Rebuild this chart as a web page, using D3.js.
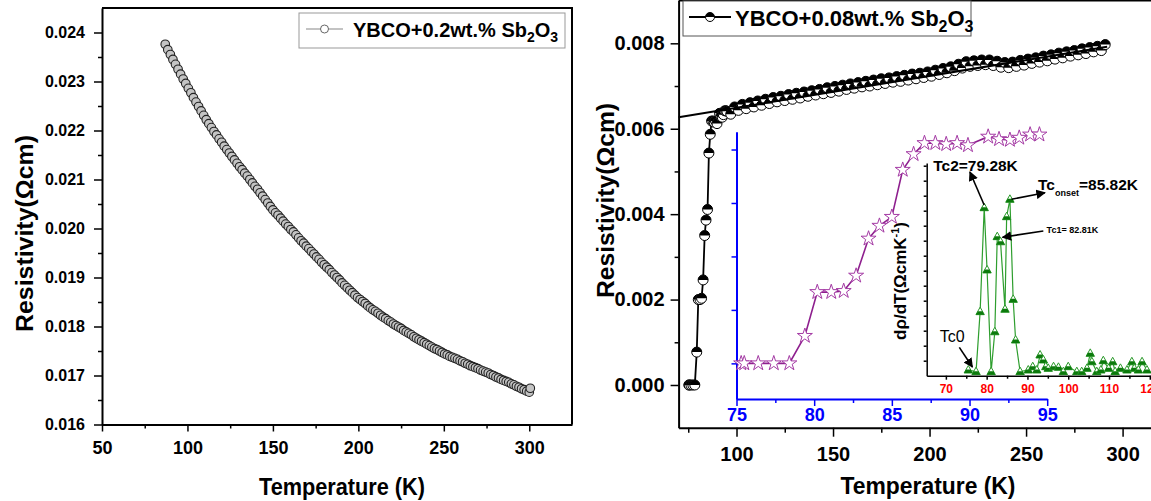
<!DOCTYPE html>
<html>
<head>
<meta charset="utf-8">
<script src="https://cdn.jsdelivr.net/npm/d3@7"></script>
<style>
  body { margin: 0; background: #fff; }
  svg { display: block; font-family: 'Liberation Sans', Arial, sans-serif; }
</style>
</head>
<body>
<svg id="chart" width="1151" height="501"></svg>
<script>
// left panel: YBCO + 0.2 wt.% Sb2O3
var leftT = [87, 88.5, 90, 91.5, 93, 94.5, 96, 97.5, 99, 100.5, 102, 103.5, 105, 106.5, 108, 109.5, 111, 112.5,
  114, 115.5, 117, 118.5, 120, 121.5, 123, 124.5, 126, 127.5, 129, 130.5, 132, 133.5, 135, 136.5, 138, 139.5,
  141, 142.5, 144, 145.5, 147, 148.5, 150, 151.5, 153, 154.5, 156, 157.5, 159, 160.5, 162, 163.5, 165, 166.5,
  168, 169.5, 171, 172.5, 174, 175.5, 177, 178.5, 180, 181.5, 183, 184.5, 186, 187.5, 189, 190.5, 192, 193.5,
  195, 196.5, 198, 199.5, 201, 202.5, 204, 205.5, 207, 208.5, 210, 211.5, 213, 214.5, 216, 217.5, 219, 220.5,
  222, 223.5, 225, 226.5, 228, 229.5, 231, 232.5, 234, 235.5, 237, 238.5, 240, 241.5, 243, 244.5, 246, 247.5,
  249, 250.5, 252, 253.5, 255, 256.5, 258, 259.5, 261, 262.5, 264, 265.5, 267, 268.5, 270, 271.5, 273, 274.5,
  276, 277.5, 279, 280.5, 282, 283.5, 285, 286.5, 288, 289.5, 291, 292.5, 294, 295.5, 297, 298.5, 300, 300.6]
var leftRho = [0.02376, 0.02365, 0.02355, 0.02345, 0.02335, 0.02325, 0.02315, 0.02305, 0.02296, 0.02286,
  0.02277, 0.02267, 0.02258, 0.02249, 0.02240, 0.02231, 0.02222, 0.02214, 0.02206, 0.02198,
  0.02191, 0.02183, 0.02176, 0.02168, 0.02161, 0.02154, 0.02147, 0.02140, 0.02133, 0.02126,
  0.02120, 0.02113, 0.02107, 0.02100, 0.02093, 0.02086, 0.02080, 0.02073, 0.02066, 0.02059,
  0.02052, 0.02045, 0.02038, 0.02032, 0.02027, 0.02021, 0.02015, 0.02009, 0.02004, 0.01998,
  0.01993, 0.01987, 0.01981, 0.01975, 0.01970, 0.01964, 0.01959, 0.01953, 0.01948, 0.01942,
  0.01937, 0.01931, 0.01926, 0.01921, 0.01916, 0.01910, 0.01905, 0.01900, 0.01895, 0.01889,
  0.01884, 0.01879, 0.01874, 0.01869, 0.01864, 0.01859, 0.01855, 0.01851, 0.01847, 0.01842,
  0.01838, 0.01834, 0.01831, 0.01827, 0.01823, 0.01819, 0.01816, 0.01812, 0.01809, 0.01805,
  0.01802, 0.01799, 0.01796, 0.01792, 0.01789, 0.01786, 0.01783, 0.01779, 0.01776, 0.01773,
  0.01770, 0.01767, 0.01764, 0.01761, 0.01758, 0.01755, 0.01753, 0.01750, 0.01747, 0.01744,
  0.01742, 0.01739, 0.01737, 0.01735, 0.01733, 0.01730, 0.01728, 0.01725, 0.01723, 0.01720,
  0.01718, 0.01716, 0.01714, 0.01711, 0.01709, 0.01707, 0.01705, 0.01702, 0.01700, 0.01697,
  0.01695, 0.01692, 0.01690, 0.01688, 0.01686, 0.01683, 0.01681, 0.01678, 0.01676, 0.01673,
  0.01671, 0.01668, 0.01666, 0.01674]
var leftXTicks = [50, 100, 150, 200, 250, 300]
var leftYTicks = [0.016, 0.017, 0.018, 0.019, 0.020, 0.021, 0.022, 0.023, 0.024]

// right panel: YBCO + 0.08 wt.% Sb2O3, transition region (also shown in the inset)
var insetT = [75.3, 75.5, 76.4, 77.4, 78.4, 79.4, 80.2, 81.1, 81.9, 82.7, 83.5, 84.2, 85.0, 85.7, 86.4,
  87.1, 87.8, 88.5, 89.2, 89.9, 91.2, 91.9, 92.6, 93.2, 93.9, 94.5]
var insetRho = [0, 0, 0, 0, 0, 0.00077, 0.00200, 0.00200, 0.00203, 0.00246, 0.00350, 0.00386, 0.00411,
  0.00543, 0.00587, 0.00618, 0.00618, 0.00615, 0.00618, 0.00612, 0.00636, 0.00629, 0.00627, 0.00633,
  0.00642, 0.00642]
// normal state part
var bandT = [95, 97, 99, 101, 103, 105, 107, 109, 111, 113, 115, 117, 119, 121, 123, 125, 127, 129, 131, 133,
  135, 137, 139, 141, 143, 145, 147, 149, 151, 153, 155, 157, 159, 161, 163, 165, 167, 169, 171, 173,
  175, 177, 179, 181, 183, 185, 187, 189, 191, 193, 195, 197, 199, 201, 203, 205, 207, 209, 211, 213,
  215, 217, 219, 221, 223, 225, 227, 229, 231, 233, 235, 237, 239, 241, 243, 245, 247, 249, 251, 253,
  255, 257, 259, 261, 263, 265, 267, 269, 271, 273, 275, 277, 279, 281, 283, 285, 287, 289, 291]
var bandRho = [0.00641, 0.00634, 0.00651, 0.00643, 0.00657, 0.00647, 0.00661, 0.00651, 0.00665, 0.00655,
  0.00669, 0.00659, 0.00673, 0.00663, 0.00676, 0.00666, 0.00680, 0.00669, 0.00683, 0.00672,
  0.00686, 0.00676, 0.00689, 0.00679, 0.00692, 0.00682, 0.00696, 0.00685, 0.00699, 0.00688,
  0.00702, 0.00692, 0.00705, 0.00695, 0.00708, 0.00698, 0.00711, 0.00700, 0.00714, 0.00703,
  0.00717, 0.00706, 0.00719, 0.00709, 0.00722, 0.00711, 0.00725, 0.00714, 0.00728, 0.00717,
  0.00730, 0.00720, 0.00733, 0.00723, 0.00737, 0.00727, 0.00741, 0.00731, 0.00745, 0.00736,
  0.00751, 0.00742, 0.00757, 0.00746, 0.00759, 0.00748, 0.00761, 0.00750, 0.00761, 0.00748,
  0.00758, 0.00744, 0.00755, 0.00743, 0.00756, 0.00746, 0.00760, 0.00749, 0.00763, 0.00753,
  0.00766, 0.00756, 0.00770, 0.00759, 0.00773, 0.00763, 0.00777, 0.00766, 0.00780, 0.00770,
  0.00783, 0.00773, 0.00787, 0.00776, 0.00790, 0.00780, 0.00793, 0.00783, 0.00797]
var fitT = [70, 292]
var fitRho = [0.00627, 0.00792]
var rightXTicks = [100, 150, 200, 250, 300]
var rightYTicks = [0, 0.002, 0.004, 0.006, 0.008]
var insetXTicks = [75, 80, 85, 90, 95]
var insetYTicks = [0, 0.0015, 0.003, 0.0045, 0.006]

// d(rho)/dT inset
var derivT = [75.5, 77.4, 78.4, 79.4, 80.1, 81.1, 82.0, 82.6, 83.4, 84.5, 84.9, 85.7, 86.5, 87.1, 88.2,
  90.2, 91.3, 92.3, 93.1, 93.9, 94.5, 95.1, 96.4, 97.6, 98.8, 100, 102.1, 103.3, 104.6, 105.4, 105.8,
  107, 108, 108.6, 109.9, 110.9, 111.5, 112.8, 114.4, 115.6, 116.2, 117.2, 118.1, 119.3]
var derivVal = [0.38, 0.27, 4.27, 11.2, 7.05, 0.27, 2.93, 9.27, 8.93, 4.43, 10.6, 11.76, 5.09, 2.38, 0.27,
  0.38, 0.6, 0.38, 1.38, 1.05, 0.6, 0.49, 0.6, 0.56, 0.27, 0.6, 0.27, 0.27, 0.49, 1.49, 0.93,
  0.27, 0.38, 1.0, 0.49, 0.93, 0.27, 0.49, 0.38, 0.93, 0.49, 0.38, 0.93, 0.38]
var derivXTicks = [70, 80, 90, 100, 110, 120]

var font = "'Liberation Sans', Arial, sans-serif"
var svg = d3.select('#chart')

svg.append('defs').append('marker')
  .attr('id', 'arrow')
  .attr('viewBox', '0 0 10 10')
  .attr('refX', 9).attr('refY', 5)
  .attr('markerWidth', 6).attr('markerHeight', 6)
  .attr('orient', 'auto')
  .append('path').attr('d', 'M0,0L10,5L0,10z').attr('fill', '#000')

function zip (xs, ys) {
  return xs.map((x, i) => ({ x: x, y: ys[i] }))
}

function drawAxis (g, axis, opts) {
  g.call(axis)
  g.select('.domain').attr('stroke', opts.color || '#000').attr('stroke-width', opts.width || 2)
  g.selectAll('.tick line').attr('stroke', opts.color || '#000').attr('stroke-width', 1.5)
  g.selectAll('.tick text')
    .attr('fill', opts.textColor || opts.color || '#000')
    .attr('font-size', opts.size)
    .attr('font-weight', 'bold')
    .attr('font-family', font)
  if (opts.noDomain) g.select('.domain').remove()
  return g
}

function title (text, x, y, size, len, rotate) {
  var t = svg.append('text')
    .attr('text-anchor', 'middle')
    .attr('font-size', size)
    .attr('font-weight', 'bold')
    .attr('textLength', len)
    .attr('lengthAdjust', 'spacingAndGlyphs')
    .text(text)
  if (rotate) t.attr('transform', 'translate(' + x + ',' + y + ') rotate(-90)')
  else t.attr('x', x).attr('y', y)
  return t
}

// ---------------- left panel ----------------
var xL = d3.scaleLinear().domain([50, 325]).range([102, 572])
var yL = d3.scaleLinear().domain([0.016, 0.0245]).range([424.5, 8])

drawAxis(svg.append('g').attr('transform', 'translate(0,' + yL.range()[0] + ')'),
  d3.axisBottom(xL).tickValues(leftXTicks).tickSize(7).tickSizeOuter(0).tickPadding(10), { size: 18 })
drawAxis(svg.append('g').attr('transform', 'translate(0,' + yL.range()[0] + ')'),
  d3.axisBottom(xL).tickValues([75, 125, 175, 225, 275]).tickSize(4).tickFormat(''), { noDomain: true })
drawAxis(svg.append('g').attr('transform', 'translate(' + xL.range()[0] + ',0)'),
  d3.axisLeft(yL).tickValues(leftYTicks).tickSize(8).tickSizeOuter(0).tickPadding(9).tickFormat(d3.format('.3f')), { size: 16 })
drawAxis(svg.append('g').attr('transform', 'translate(' + xL.range()[0] + ',0)'),
  d3.axisLeft(yL).tickValues([0.0165, 0.0175, 0.0185, 0.0195, 0.0205, 0.0215, 0.0225, 0.0235]).tickSize(4).tickFormat(''), { noDomain: true })
svg.append('path')
  .attr('d', 'M' + xL.range()[0] + ',' + yL.range()[1] + 'H' + xL.range()[1] + 'V' + yL.range()[0])
  .attr('fill', 'none').attr('stroke', '#000').attr('stroke-width', 2)

var leftData = zip(leftT, leftRho)
svg.append('path')
  .datum(leftData)
  .attr('fill', 'none').attr('stroke', '#888').attr('stroke-width', 1)
  .attr('d', d3.line().x((d) => xL(d.x)).y((d) => yL(d.y)))
svg.append('g').selectAll('circle')
  .data(leftData).enter().append('circle')
  .attr('cx', (d) => xL(d.x)).attr('cy', (d) => yL(d.y)).attr('r', 4.3)
  .attr('fill', '#c4c4c4').attr('stroke', '#222').attr('stroke-width', 1.1)

// legend
var lg = svg.append('g')
lg.append('rect').attr('x', 299).attr('y', 13).attr('width', 266).attr('height', 35)
  .attr('fill', '#fff').attr('stroke', '#999').attr('stroke-width', 1)
lg.append('line').attr('x1', 306).attr('x2', 343).attr('y1', 29).attr('y2', 29).attr('stroke', '#888').attr('stroke-width', 1.2)
lg.append('circle').attr('cx', 324.5).attr('cy', 29).attr('r', 4).attr('fill', '#fff').attr('stroke', '#666')
var lt = lg.append('text').attr('x', 353).attr('y', 37).attr('font-size', 20).attr('font-weight', 'bold')
lt.append('tspan').text('YBCO+0.2wt.% Sb')
lt.append('tspan').attr('font-size', 14).attr('dy', 5).text('2')
lt.append('tspan').attr('dy', -5).text('O')
lt.append('tspan').attr('font-size', 14).attr('dy', 5).text('3')

title('Temperature (K)', 342, 495, 24, 166)
title('Resistivity(\u03A9cm)', 33, 233.5, 24, 197, true)

// ---------------- right panel ----------------
var xR = d3.scaleLinear().domain([70, 330]).range([678.6, 1180.5])
var yR = d3.scaleLinear().domain([-0.001, 0.009]).range([427.7, 0.6])

drawAxis(svg.append('g').attr('transform', 'translate(0,' + yR.range()[0] + ')'),
  d3.axisBottom(xR).tickValues(rightXTicks).tickSize(9).tickSizeOuter(0).tickPadding(10), { size: 20 })
drawAxis(svg.append('g').attr('transform', 'translate(0,' + yR.range()[0] + ')'),
  d3.axisBottom(xR).tickValues([75, 125, 175, 225, 275]).tickSize(5).tickFormat(''), { noDomain: true })
drawAxis(svg.append('g').attr('transform', 'translate(' + xR.range()[0] + ',0)'),
  d3.axisLeft(yR).tickValues(rightYTicks).tickSize(8).tickSizeOuter(0).tickPadding(6).tickFormat(d3.format('.3f')), { size: 20 })
drawAxis(svg.append('g').attr('transform', 'translate(' + xR.range()[0] + ',0)'),
  d3.axisLeft(yR).tickValues([0.001, 0.003, 0.005, 0.007]).tickSize(4).tickFormat(''), { noDomain: true })
svg.append('line')
  .attr('x1', xR.range()[0]).attr('x2', xR.range()[1]).attr('y1', yR.range()[1]).attr('y2', yR.range()[1])
  .attr('stroke', '#000').attr('stroke-width', 2)

var rightData = zip(insetT, insetRho).concat(zip(bandT, bandRho))
svg.append('path')
  .datum(rightData)
  .attr('fill', 'none').attr('stroke', '#000').attr('stroke-width', 1.8)
  .attr('d', d3.line().x((d) => xR(d.x)).y((d) => yR(d.y)))

function halfCircles (g, data, x, y, r) {
  var m = g.selectAll('g').data(data).enter().append('g')
    .attr('transform', (d) => 'translate(' + x(d.x) + ',' + y(d.y) + ')')
  m.append('circle').attr('r', r).attr('fill', '#fff').attr('stroke', '#000').attr('stroke-width', 1)
  m.append('path').attr('d', 'M' + (-r) + ',0A' + r + ',' + r + ' 0 0 1 ' + r + ',0Z').attr('fill', '#000')
}
halfCircles(svg.append('g'), rightData, xR, yR, 5)

svg.append('line')
  .attr('x1', xR(fitT[0])).attr('y1', yR(fitRho[0]))
  .attr('x2', xR(fitT[1])).attr('y2', yR(fitRho[1]))
  .attr('stroke', '#000').attr('stroke-width', 2)

// legend
var rg = svg.append('g')
rg.append('rect').attr('x', 683).attr('y', 1).attr('width', 288).attr('height', 35)
  .attr('fill', '#fff').attr('stroke', '#555').attr('stroke-width', 1)
rg.append('line').attr('x1', 689).attr('x2', 731).attr('y1', 17).attr('y2', 17).attr('stroke', '#000').attr('stroke-width', 2)
halfCircles(rg.append('g'), [{ x: 0, y: 0 }], () => 710, () => 17, 4.5)
var rt = rg.append('text').attr('x', 735).attr('y', 26).attr('font-size', 22).attr('font-weight', 'bold')
rt.append('tspan').text('YBCO+0.08wt.% Sb')
rt.append('tspan').attr('font-size', 16).attr('dy', 6).text('2')
rt.append('tspan').attr('dy', -6).text('O')
rt.append('tspan').attr('font-size', 16).attr('dy', 6).text('3')

title('Temperature (K)', 928, 494, 24, 175)
title('Resistivity(\u03A9cm)', 614, 200.5, 24, 195, true)

// ---------------- inset: rho vs T near Tc ----------------
var xI = d3.scaleLinear().domain([75, 95]).range([736.5, 1047.2])
var yI = d3.scaleLinear().domain([-0.001, 0.0065]).range([399, 131.7])

drawAxis(svg.append('g').attr('transform', 'translate(0,' + yI.range()[0] + ')'),
  d3.axisBottom(xI).tickValues(insetXTicks).tickSize(7).tickSizeOuter(0).tickPadding(2), { size: 18, color: '#0000ff' })
drawAxis(svg.append('g').attr('transform', 'translate(0,' + yI.range()[0] + ')'),
  d3.axisBottom(xI).tickValues([77.5, 82.5, 87.5, 92.5]).tickSize(4).tickFormat(''), { noDomain: true, color: '#0000ff' })
drawAxis(svg.append('g').attr('transform', 'translate(' + xI.range()[0] + ',0)'),
  d3.axisLeft(yI).tickValues(insetYTicks).tickSize(5).tickSizeOuter(0).tickFormat(''), { color: '#0000ff' })

var insetData = zip(insetT, insetRho)
svg.append('path')
  .datum(insetData)
  .attr('fill', 'none').attr('stroke', '#8e1f8e').attr('stroke-width', 1.6)
  .attr('d', d3.line().x((d) => xI(d.x)).y((d) => yI(d.y)))
svg.append('g').selectAll('path')
  .data(insetData).enter().append('path')
  .attr('transform', (d) => 'translate(' + xI(d.x) + ',' + yI(d.y) + ')')
  .attr('d', d3.symbol(d3.symbolStar, 70))
  .attr('fill', '#fff').attr('stroke', '#a43aa4').attr('stroke-width', 1)

// ---------------- inset: d(rho)/dT ----------------
var xD = d3.scaleLinear().domain([65.3, 125]).range([926.7, 1170.2])
var yD = d3.scaleLinear().domain([0, 14.18]).range([375.7, 163])

drawAxis(svg.append('g').attr('transform', 'translate(0,' + yD.range()[0] + ')'),
  d3.axisBottom(xD).tickValues(derivXTicks).tickSize(4).tickSizeOuter(0).tickPadding(5), { size: 12, width: 1.5, textColor: '#ff0000' })
drawAxis(svg.append('g').attr('transform', 'translate(0,' + yD.range()[0] + ')'),
  d3.axisBottom(xD).tickValues([75, 85, 95, 105, 115]).tickSize(3).tickFormat(''), { noDomain: true })
drawAxis(svg.append('g').attr('transform', 'translate(' + xD.range()[0] + ',0)'),
  d3.axisLeft(yD).tickValues([1, 2, 3, 4, 5, 6, 7, 8, 9, 10, 11, 12, 13, 14]).tickSize(3).tickSizeOuter(0).tickFormat(''), { width: 1.5 })

var derivData = zip(derivT, derivVal)
svg.append('path')
  .datum(derivData)
  .attr('fill', 'none').attr('stroke', '#2e9e2e').attr('stroke-width', 1.2)
  .attr('d', d3.line().x((d) => xD(d.x)).y((d) => yD(d.y)))
var tri = svg.append('g').selectAll('g')
  .data(derivData).enter().append('g')
  .attr('transform', (d) => 'translate(' + xD(d.x) + ',' + yD(d.y) + ')')
tri.append('path').attr('d', 'M0,-4.5L4.2,3L-4.2,3Z')
  .attr('fill', '#fff').attr('stroke', '#2a9a2a').attr('stroke-width', 1)
tri.append('path').attr('d', 'M-2.3,-0.5L2.3,-0.5L4.2,3L-4.2,3Z').attr('fill', '#0c7a0c')

var dl = svg.append('text')
  .attr('transform', 'translate(906,281) rotate(-90)')
  .attr('text-anchor', 'middle').attr('font-weight', 'bold').attr('font-size', 17)
dl.append('tspan').text('d\u03C1/dT(\u03A9cmK')
dl.append('tspan').attr('font-size', 11).attr('dy', -7).text('-1')
dl.append('tspan').attr('dy', 7).text(')')

// annotations, in (T, dρ/dT) coordinates of the derivative inset
var notes = [
  { from: [79.39, 11.38], to: [75.9, 13.58] },
  { from: [86.1, 11.76], to: [94.3, 12.2] },
  { from: [93.9, 9.65], to: [83.9, 9.23] },
  { from: [73.3, 1.89], to: [76.5, 0.58] }
]
svg.append('g').selectAll('line')
  .data(notes).enter().append('line')
  .attr('x1', (d) => xD(d.from[0])).attr('y1', (d) => yD(d.from[1]))
  .attr('x2', (d) => xD(d.to[0])).attr('y2', (d) => yD(d.to[1]))
  .attr('stroke', '#000').attr('stroke-width', 1.6)
  .attr('marker-end', 'url(#arrow)')

svg.append('text').attr('x', xD(66.9)).attr('y', yD(13.67))
  .attr('font-size', 15.5).attr('font-weight', 'bold').text('Tc2=79.28K')
var on = svg.append('text').attr('x', xD(92.6)).attr('y', yD(12.38))
  .attr('font-size', 15.5).attr('font-weight', 'bold')
on.append('tspan').text('Tc')
on.append('tspan').attr('font-size', 9).attr('dy', 6).text('onset')
on.append('tspan').attr('dy', -6).text('=85.82K')
svg.append('text').attr('x', xD(94.7)).attr('y', yD(9.71)).attr('dy', '0.35em')
  .attr('font-size', 9).attr('font-weight', 'bold').text('Tc1= 82.81K')
svg.append('text').attr('x', xD(68.5)).attr('y', yD(2.27))
  .attr('font-size', 16).text('Tc0')
</script>
</body>
</html>
